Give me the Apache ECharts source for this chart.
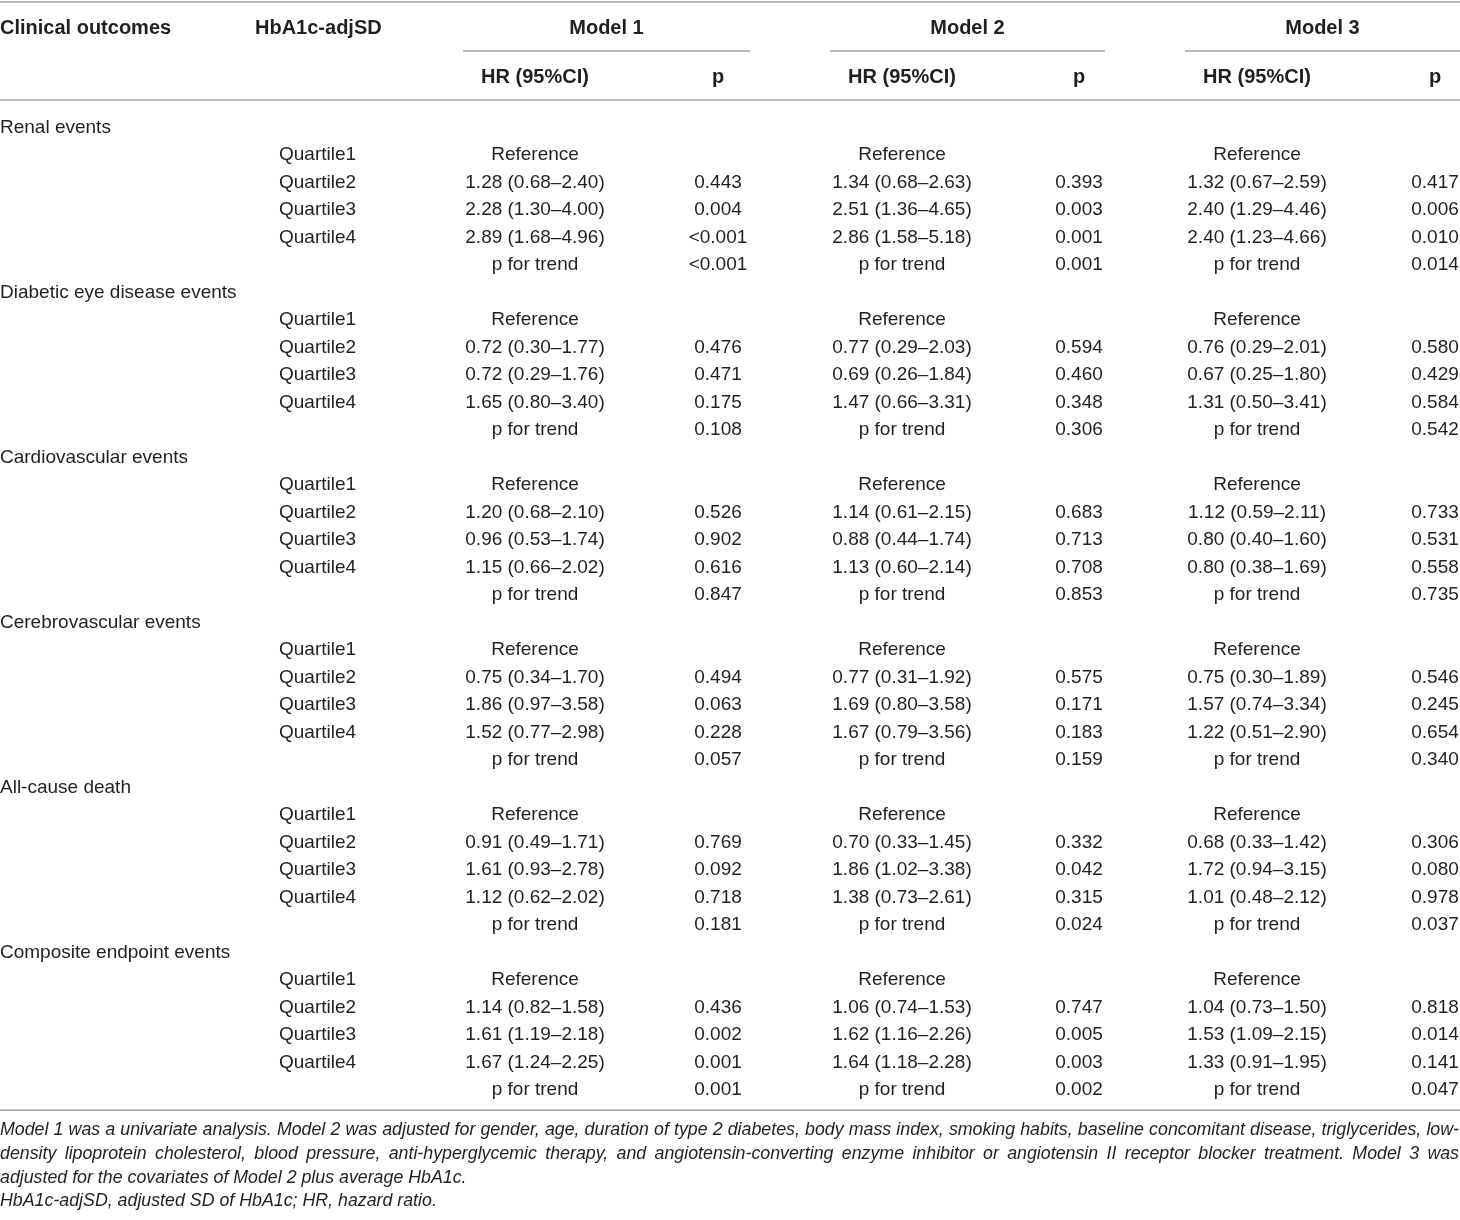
<!DOCTYPE html>
<html>
<head>
<meta charset="utf-8">
<script src="https://cdn.jsdelivr.net/npm/echarts@6/dist/echarts.min.js"></script>
<style>
html, body { margin: 0; padding: 0; background: #fff; }
#main { width: 1460px; height: 1220px; }
</style>
</head>
<body>
<div id="main"></div>
<script>
// table content
var outcomes = ['Renal events', 'Diabetic eye disease events', 'Cardiovascular events',
  'Cerebrovascular events', 'All-cause death', 'Composite endpoint events'];
var levels = ['Quartile1', 'Quartile2', 'Quartile3', 'Quartile4'];
var refLabel = 'Reference';
var trendLabel = 'p for trend';
var models = ['Model 1', 'Model 2', 'Model 3'];
var subHeads = ['HR (95%CI)', 'p'];
var colHeads = ['Clinical outcomes', 'HbA1c-adjSD'];

// HR (95%CI) for Quartile2..4, one list per outcome
var model1HR = [
  ['1.28 (0.68–2.40)', '2.28 (1.30–4.00)', '2.89 (1.68–4.96)'],
  ['0.72 (0.30–1.77)', '0.72 (0.29–1.76)', '1.65 (0.80–3.40)'],
  ['1.20 (0.68–2.10)', '0.96 (0.53–1.74)', '1.15 (0.66–2.02)'],
  ['0.75 (0.34–1.70)', '1.86 (0.97–3.58)', '1.52 (0.77–2.98)'],
  ['0.91 (0.49–1.71)', '1.61 (0.93–2.78)', '1.12 (0.62–2.02)'],
  ['1.14 (0.82–1.58)', '1.61 (1.19–2.18)', '1.67 (1.24–2.25)']
];
var model2HR = [
  ['1.34 (0.68–2.63)', '2.51 (1.36–4.65)', '2.86 (1.58–5.18)'],
  ['0.77 (0.29–2.03)', '0.69 (0.26–1.84)', '1.47 (0.66–3.31)'],
  ['1.14 (0.61–2.15)', '0.88 (0.44–1.74)', '1.13 (0.60–2.14)'],
  ['0.77 (0.31–1.92)', '1.69 (0.80–3.58)', '1.67 (0.79–3.56)'],
  ['0.70 (0.33–1.45)', '1.86 (1.02–3.38)', '1.38 (0.73–2.61)'],
  ['1.06 (0.74–1.53)', '1.62 (1.16–2.26)', '1.64 (1.18–2.28)']
];
var model3HR = [
  ['1.32 (0.67–2.59)', '2.40 (1.29–4.46)', '2.40 (1.23–4.66)'],
  ['0.76 (0.29–2.01)', '0.67 (0.25–1.80)', '1.31 (0.50–3.41)'],
  ['1.12 (0.59–2.11)', '0.80 (0.40–1.60)', '0.80 (0.38–1.69)'],
  ['0.75 (0.30–1.89)', '1.57 (0.74–3.34)', '1.22 (0.51–2.90)'],
  ['0.68 (0.33–1.42)', '1.72 (0.94–3.15)', '1.01 (0.48–2.12)'],
  ['1.04 (0.73–1.50)', '1.53 (1.09–2.15)', '1.33 (0.91–1.95)']
];
// p for Quartile2..4 then p for trend
var model1P = [
  ['0.443', '0.004', '<0.001', '<0.001'],
  ['0.476', '0.471', '0.175', '0.108'],
  ['0.526', '0.902', '0.616', '0.847'],
  ['0.494', '0.063', '0.228', '0.057'],
  ['0.769', '0.092', '0.718', '0.181'],
  ['0.436', '0.002', '0.001', '0.001']
];
var model2P = [
  ['0.393', '0.003', '0.001', '0.001'],
  ['0.594', '0.460', '0.348', '0.306'],
  ['0.683', '0.713', '0.708', '0.853'],
  ['0.575', '0.171', '0.183', '0.159'],
  ['0.332', '0.042', '0.315', '0.024'],
  ['0.747', '0.005', '0.003', '0.002']
];
var model3P = [
  ['0.417', '0.006', '0.010', '0.014'],
  ['0.580', '0.429', '0.584', '0.542'],
  ['0.733', '0.531', '0.558', '0.735'],
  ['0.546', '0.245', '0.654', '0.340'],
  ['0.306', '0.080', '0.978', '0.037'],
  ['0.818', '0.014', '0.141', '0.047']
];

var footnotes = [
  'Model 1 was a univariate analysis. Model 2 was adjusted for gender, age, duration of type 2 diabetes, body mass index, smoking habits, baseline concomitant disease, triglycerides, low-',
  'density lipoprotein cholesterol, blood pressure, anti-hyperglycemic therapy, and angiotensin-converting enzyme inhibitor or angiotensin II receptor blocker treatment. Model 3 was',
  'adjusted for the covariates of Model 2 plus average HbA1c.',
  'HbA1c-adjSD, adjusted SD of HbA1c; HR, hazard ratio.'
];

// layout
var W = 1460;
var FONT = 'Liberation Sans, Arial, sans-serif';
var TEXT = '#231f20';
var RULE = '#a3a3a3';
var colX = { outcome: 0, level: 279, head2: 255, hr: [535, 902, 1257], p: [718, 1079, 1435] };
var modelSpan = [[463, 750], [830, 1105], [1185, 1460]];

var hrCols = [model1HR, model2HR, model3HR];
var pCols = [model1P, model2P, model3P];

// body cells
var rowsPerGroup = levels.length + 2;
var bodyRows = [];
var bodyCells = [];
outcomes.forEach(function (name, g) {
  var base = g * rowsPerGroup;
  for (var r = 0; r < rowsPerGroup; r++) bodyRows.push(String(base + r));
  bodyCells.push({ x: colX.outcome, row: base, text: name, align: 'left' });
  levels.forEach(function (lv, k) {
    bodyCells.push({ x: colX.level, row: base + 1 + k, text: lv, align: 'left' });
  });
  for (var m = 0; m < 3; m++) {
    bodyCells.push({ x: colX.hr[m], row: base + 1, text: refLabel, align: 'center' });
    hrCols[m][g].forEach(function (v, k) {
      bodyCells.push({ x: colX.hr[m], row: base + 2 + k, text: v, align: 'center' });
    });
    bodyCells.push({ x: colX.hr[m], row: base + 5, text: trendLabel, align: 'center' });
    pCols[m][g].forEach(function (v, k) {
      bodyCells.push({ x: colX.p[m], row: base + 2 + k, text: v, align: 'center' });
    });
  }
});

// header cells
var headCells = [
  { x: colX.outcome, row: 0, text: colHeads[0], align: 'left' },
  { x: colX.head2, row: 0, text: colHeads[1], align: 'left' }
];
models.forEach(function (md, m) {
  headCells.push({ x: (modelSpan[m][0] + modelSpan[m][1]) / 2, row: 0, text: md, align: 'center' });
  headCells.push({ x: colX.hr[m], row: 1, text: subHeads[0], align: 'center' });
  headCells.push({ x: colX.p[m], row: 1, text: subHeads[1], align: 'center' });
});

// rules: edge is the offset from the row centre in band units
var headRules = [{ x1: 0, x2: W, row: 0, edge: -0.5 }, { x1: 0, x2: W, row: 1, edge: 0.5 }];
modelSpan.forEach(function (s) { headRules.push({ x1: s[0], x2: s[1], row: 0, edge: 0.5 }); });
var bodyRules = [{ x1: 0, x2: W, row: bodyRows.length - 1, edge: 0.8 }];

function textRenderer(cells, weight, size) {
  return function (params, api) {
    var c = cells[params.dataIndex];
    var pt = api.coord([c.x, c.row]);
    return {
      type: 'text',
      style: {
        x: pt[0], y: pt[1] + 2, text: c.text, align: c.align, verticalAlign: 'middle',
        fill: TEXT, fontSize: size, fontFamily: FONT, fontWeight: weight
      }
    };
  };
}
function ruleRenderer(rules) {
  return function (params, api) {
    var r = rules[params.dataIndex];
    var a = api.coord([r.x1, r.row]);
    var b = api.coord([r.x2, r.row]);
    var band = api.size([0, 1])[1];
    var y = a[1] + r.edge * band;
    return {
      type: 'line',
      shape: { x1: a[0], y1: y, x2: b[0], y2: y },
      style: { stroke: RULE, lineWidth: 1.5 }
    };
  };
}

// footnotes, justified like the source
var ctx = document.createElement('canvas').getContext('2d');
function measure(s, fs) { ctx.font = 'italic ' + fs + 'px Liberation Sans'; return ctx.measureText(s).width; }
var noteSize = 19;
var natural = Math.max(measure(footnotes[0], 19), measure(footnotes[1], 19));
if (natural > W) noteSize = Math.floor(19 * W / natural * 10) / 10;
var noteY = [1130, 1154, 1178, 1201];
var noteEls = [];
footnotes.forEach(function (line, i) {
  var words = line.split(' ');
  var widths = words.map(function (w) { return measure(w, noteSize); });
  var total = widths.reduce(function (s, v) { return s + v; }, 0);
  var gap = i < 2 ? (W - 1 - total) / (words.length - 1) : measure(' ', noteSize);
  var x = 0;
  words.forEach(function (w, k) {
    noteEls.push({
      type: 'text', x: x, y: noteY[i],
      style: { text: w, fill: TEXT, fontSize: noteSize, fontStyle: 'italic', fontFamily: FONT,
        verticalAlign: 'middle', align: 'left' }
    });
    x += widths[k] + gap;
  });
});

var myChart = echarts.init(document.getElementById('main'));
var option = {
  backgroundColor: '#fff',
  animation: false,
  grid: [
    { left: 0, right: 0, top: 112, bottom: 118 },
    { left: 0, right: 0, top: 2, bottom: 1120 }
  ],
  xAxis: [
    { type: 'value', min: 0, max: W, show: false, gridIndex: 0 },
    { type: 'value', min: 0, max: W, show: false, gridIndex: 1 }
  ],
  yAxis: [
    { type: 'category', data: bodyRows, inverse: true, show: false, gridIndex: 0 },
    { type: 'category', data: ['0', '1'], inverse: true, show: false, gridIndex: 1 }
  ],
  graphic: noteEls,
  series: [
    {
      type: 'custom', xAxisIndex: 0, yAxisIndex: 0, clip: false, silent: true,
      renderItem: textRenderer(bodyCells, 'normal', 19),
      data: bodyCells.map(function (c) { return [c.x, c.row]; })
    },
    {
      type: 'custom', xAxisIndex: 0, yAxisIndex: 0, clip: false, silent: true,
      renderItem: ruleRenderer(bodyRules),
      data: bodyRules.map(function (r) { return [r.x1, r.row]; })
    },
    {
      type: 'custom', xAxisIndex: 1, yAxisIndex: 1, clip: false, silent: true,
      renderItem: textRenderer(headCells, 'bold', 20),
      data: headCells.map(function (c) { return [c.x, c.row]; })
    },
    {
      type: 'custom', xAxisIndex: 1, yAxisIndex: 1, clip: false, silent: true,
      renderItem: ruleRenderer(headRules),
      data: headRules.map(function (r) { return [r.x1, r.row]; })
    }
  ]
};
myChart.setOption(option);
</script>
</body>
</html>
